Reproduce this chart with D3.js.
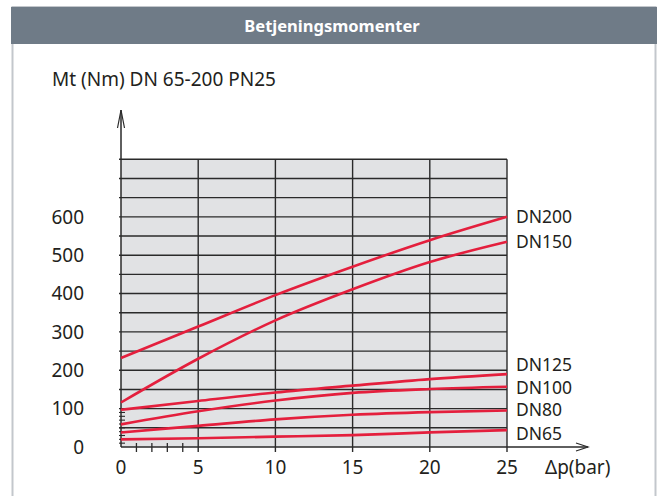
<!DOCTYPE html>
<html>
<head>
<meta charset="utf-8">
<script src="https://cdn.jsdelivr.net/npm/d3@7"></script>
<style>
  html, body { margin: 0; padding: 0; background: #ffffff; }
  svg { display: block; }
  text { font-family: "Noto Sans", "Open Sans", sans-serif; }
</style>
</head>
<body>
<script>
// ---- data ----
const title = "Betjeningsmomenter";
const yAxisTitle = "Mt (Nm) DN 65-200 PN25";
const xAxisTitle = "Δp(bar)";
const pressure = [0, 5, 10, 15, 20, 25];
const seriesNames = ["DN200", "DN150", "DN125", "DN100", "DN80", "DN65"];
const dn200 = [232, 314, 396, 470, 539, 600];
const dn150 = [116, 230, 330, 411, 482, 535];
const dn125 = [97, 120, 142, 160, 177, 190];
const dn100 = [59, 93, 121, 141, 151, 157];
const dn80 = [38, 55, 72, 84, 91, 95];
const dn65 = [20, 23, 27, 31, 38, 44];
const labelAt = [600, 535, 214, 154, 96, 34];
const yTicks = [0, 100, 200, 300, 400, 500, 600];
const xTicks = [0, 5, 10, 15, 20, 25];
const xMinorTicks = [1, 2, 3, 4];
const yMinorTicks = [10, 20, 30, 40, 50, 60, 70, 80, 90];
const yGrid = d3.range(50, 751, 50);
const yMax = 750;

const seriesValues = [dn200, dn150, dn125, dn100, dn80, dn65];

// ---- drawing ----
const W = 662, H = 496;
const svg = d3.select("body").append("svg").attr("width", W).attr("height", H);
const fs = 19;
const txtCol = "#231f20";

// card
svg.append("rect").attr("x", 12.5).attr("y", 7).attr("width", 643).attr("height", 500)
  .attr("fill", "#fff").attr("stroke", "#c3c7cc").attr("stroke-width", 2);
svg.append("rect").attr("x", 11).attr("y", 7).attr("width", 646).attr("height", 37)
  .attr("fill", "#6f7b87");
svg.append("text").attr("x", 332).attr("y", 31.5).attr("text-anchor", "middle")
  .attr("fill", "#fff").attr("font-size", 16.5).attr("font-weight", "bold").text(title);

const x = d3.scaleLinear().domain([0, 25]).range([121, 507]);
const y = d3.scaleLinear().domain([0, yMax]).range([447, 159.3]);

const lineCol = "#2a2a2a";

// plot background
svg.append("rect").attr("x", x(0)).attr("y", y(yMax)).attr("width", x(25) - x(0))
  .attr("height", y(0) - y(yMax)).attr("fill", "#e1e2e4");

// horizontal grid
svg.append("g").selectAll("line").data(yGrid).join("line")
  .attr("x1", x(0) - 2).attr("x2", x(25))
  .attr("y1", d => y(d)).attr("y2", d => y(d))
  .attr("stroke", lineCol).attr("stroke-width", 1.4);

// vertical grid
svg.append("g").selectAll("line").data(xTicks.filter(d => d > 0)).join("line")
  .attr("x1", d => x(d)).attr("x2", d => x(d))
  .attr("y1", y(yMax)).attr("y2", y(0) + 5)
  .attr("stroke", lineCol).attr("stroke-width", 1.4);

// minor x ticks
svg.append("g").selectAll("line").data(xMinorTicks).join("line")
  .attr("x1", d => x(d)).attr("x2", d => x(d))
  .attr("y1", y(0) - 4).attr("y2", y(0) + 5)
  .attr("stroke", lineCol).attr("stroke-width", 1.3);

// minor y ticks
svg.append("g").selectAll("line").data(yMinorTicks).join("line")
  .attr("x1", x(0) - 2).attr("x2", x(0) + 4)
  .attr("y1", d => y(d)).attr("y2", d => y(d))
  .attr("stroke", lineCol).attr("stroke-width", 1.1);

// y axis with arrow
svg.append("line").attr("x1", x(0)).attr("x2", x(0)).attr("y1", y(0)).attr("y2", 110)
  .attr("stroke", lineCol).attr("stroke-width", 1.5);
svg.append("path").attr("d", `M${x(0) - 3.5},128 L${x(0)},110 L${x(0) + 3.5},128`)
  .attr("fill", "none").attr("stroke", lineCol).attr("stroke-width", 1.2);

// x axis with arrow
svg.append("line").attr("x1", x(0)).attr("x2", 588).attr("y1", y(0)).attr("y2", y(0))
  .attr("stroke", lineCol).attr("stroke-width", 1.5);
svg.append("path").attr("d", `M576,${y(0) - 4} L588,${y(0)} L576,${y(0) + 4}`)
  .attr("fill", "none").attr("stroke", lineCol).attr("stroke-width", 1.2);

// curves
const line = d3.line().x((d, i) => x(pressure[i])).y(d => y(d)).curve(d3.curveMonotoneX);
svg.append("g").selectAll("path").data(seriesValues).join("path")
  .attr("d", d => line(d)).attr("fill", "none")
  .attr("stroke", "#e41f3d").attr("stroke-width", 2.6);

// series labels
svg.append("g").selectAll("text").data(seriesNames).join("text")
  .attr("x", x(25) + 9).attr("y", (d, i) => y(labelAt[i])).attr("dy", "0.36em")
  .attr("font-size", 17.5).attr("fill", txtCol).text(d => d);

// y tick labels
svg.append("g").selectAll("text").data(yTicks).join("text")
  .attr("x", 84).attr("y", d => y(d)).attr("dy", "0.36em").attr("text-anchor", "end")
  .attr("font-size", fs).attr("fill", txtCol).text(d => d);

// x tick labels
svg.append("g").selectAll("text").data(xTicks).join("text")
  .attr("x", d => x(d)).attr("y", 474).attr("text-anchor", "middle")
  .attr("font-size", fs).attr("fill", txtCol).text(d => d);

svg.append("text").attr("x", 545).attr("y", 474).attr("font-size", fs).attr("fill", txtCol).text(xAxisTitle);
svg.append("text").attr("x", 52).attr("y", 86).attr("font-size", fs).attr("fill", txtCol).text(yAxisTitle);
</script>
</body>
</html>
